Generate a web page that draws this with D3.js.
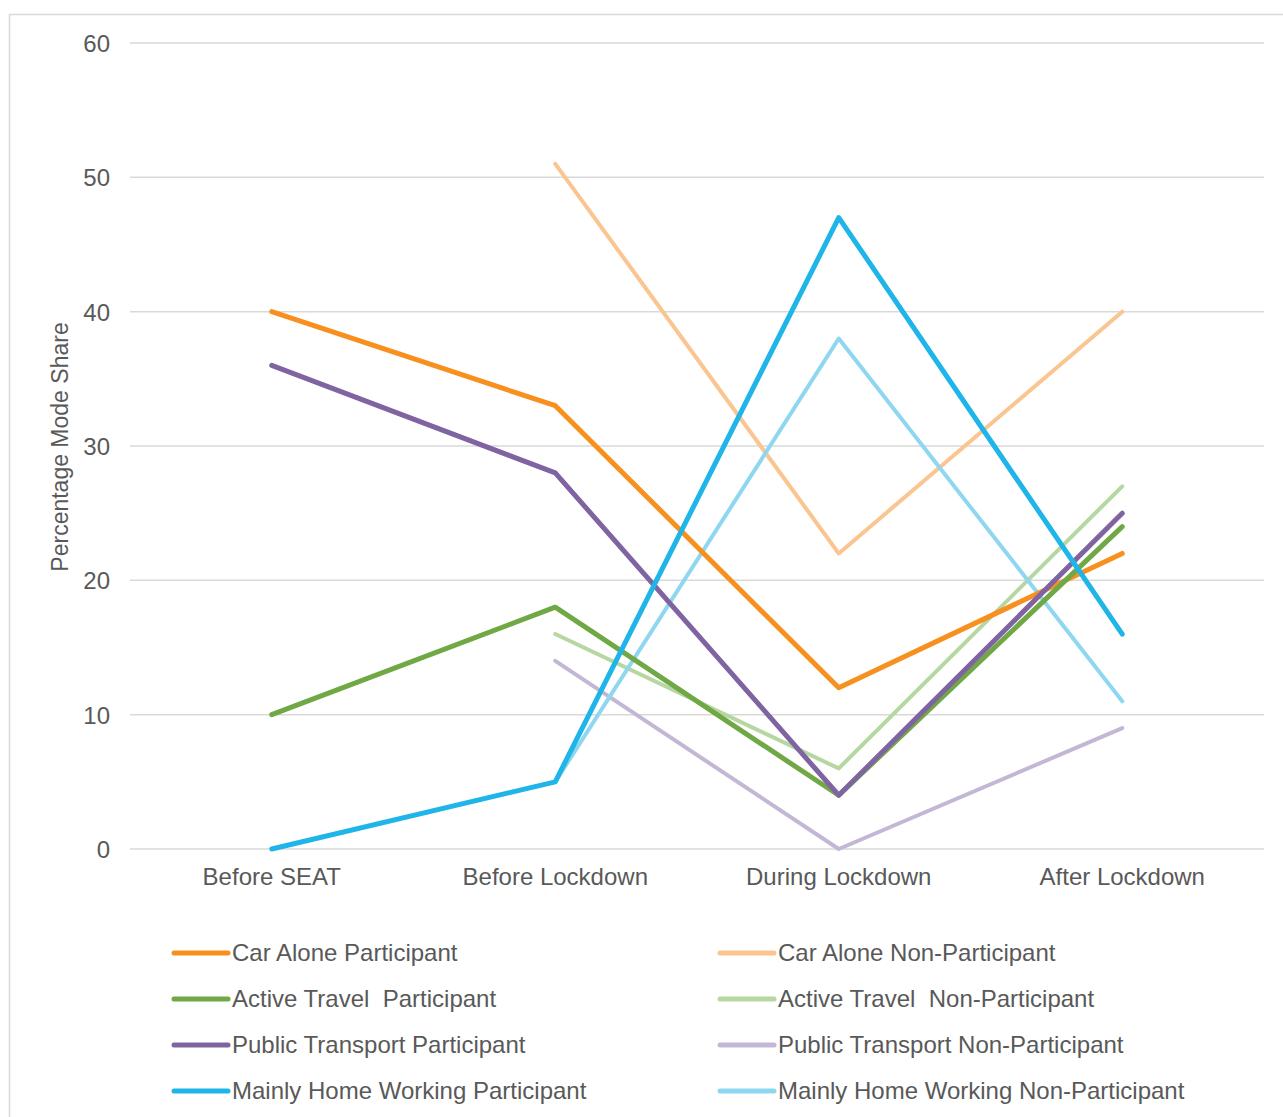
<!DOCTYPE html>
<html>
<head>
<meta charset="utf-8">
<script src="https://cdn.jsdelivr.net/npm/d3@7"></script>
<style>
	body { margin: 0; background: #fff; }
	svg { display: block; font-family: "Liberation Sans", Arial, sans-serif; }
</style>
</head>
<body>
<div id="chart"></div>
<script>
	'use strict';

	var categories = ['Before SEAT', 'Before Lockdown', 'During Lockdown', 'After Lockdown'];
	var yTicks = [0, 10, 20, 30, 40, 50, 60];

	var seriesNames = [
		'Car Alone Participant', 'Car Alone Non-Participant',
		'Active Travel  Participant', 'Active Travel  Non-Participant',
		'Public Transport Participant', 'Public Transport Non-Participant',
		'Mainly Home Working Participant', 'Mainly Home Working Non-Participant'
	];

	var carAlonePart = [40, 33, 12, 22];
	var carAloneNon = [null, 51, 22, 40];
	var activePart = [10, 18, 4, 24];
	var activeNon = [null, 16, 6, 27];
	var publicPart = [36, 28, 4, 25];
	var publicNon = [null, 14, 0, 9];
	var homePart = [0, 5, 47, 16];
	var homeNon = [null, 5, 38, 11];

	var seriesValues = [carAlonePart, carAloneNon, activePart, activeNon, publicPart, publicNon, homePart, homeNon];
	var colors = ['#F7901E', '#FAC590', '#70A845', '#B6D7A2', '#8064A2', '#C4B7D5', '#1FB5E8', '#8FD7F0'];

	var width = 1283, height = 1117;
	var margin = {top: 43, right: 19, bottom: 268, left: 130};

	var svg = d3.select('#chart').append('svg')
		.attr('width', width)
		.attr('height', height);

	// outer frame
	svg.append('rect')
		.attr('x', 9.5).attr('y', 14.5)
		.attr('width', 1290).attr('height', 1120)
		.attr('fill', 'none')
		.attr('stroke', '#d9d9d9')
		.attr('stroke-width', 1.5);

	var x = d3.scaleBand()
		.domain(categories)
		.range([margin.left, width - margin.right]);

	var y = d3.scaleLinear()
		.domain([0, 60])
		.range([height - margin.bottom, margin.top]);

	// gridlines
	svg.append('g')
		.selectAll('line')
		.data(yTicks).enter()
		.append('line')
			.attr('x1', margin.left)
			.attr('x2', width - margin.right)
			.attr('y1', function(d) { return y(d); })
			.attr('y2', function(d) { return y(d); })
			.attr('stroke', '#d9d9d9')
			.attr('stroke-width', 1.5);

	// y axis labels
	var yAxis = svg.append('g')
		.attr('transform', 'translate(' + (margin.left - 20) + ',0)')
		.call(d3.axisLeft(y).tickValues(yTicks).tickSize(0).tickPadding(0));
	yAxis.select('.domain').remove();
	yAxis.selectAll('text')
		.attr('fill', '#595959')
		.style('font-size', '24px')
		.attr('dy', '0.35em');

	// x axis labels
	var xAxis = svg.append('g')
		.attr('transform', 'translate(0,' + (height - margin.bottom + 28) + ')')
		.call(d3.axisBottom(x).tickSize(0).tickPadding(0));
	xAxis.select('.domain').remove();
	xAxis.selectAll('text')
		.attr('fill', '#595959')
		.style('font-size', '24px')
		.attr('dy', '0.35em');

	// y title
	svg.append('text')
		.attr('transform', 'translate(68,' + (y(30) + 1) + ') rotate(-90)')
		.attr('text-anchor', 'middle')
		.attr('fill', '#595959')
		.style('font-size', '23px')
		.text('Percentage Mode Share');

	var line = d3.line()
		.defined(function(d) { return d != null; })
		.x(function(d, i) { return x(categories[i]) + x.bandwidth() / 2; })
		.y(function(d) { return y(d); });

	var series = seriesNames.map(function(name, i) {
		return {name: name, values: seriesValues[i], color: colors[i], part: i % 2 === 0};
	});

	// draw non-participant first, participants on top
	var drawOrder = series.filter(function(s) { return !s.part; }).concat(series.filter(function(s) { return s.part; }));

	svg.append('g')
		.selectAll('path')
		.data(drawOrder).enter()
		.append('path')
			.attr('d', function(d) { return line(d.values); })
			.attr('fill', 'none')
			.attr('stroke', function(d) { return d.color; })
			.attr('stroke-width', function(d) { return d.part ? 5 : 4; })
			.attr('stroke-linejoin', 'round')
			.attr('stroke-linecap', 'round');

	// legend
	var legend = svg.append('g')
		.selectAll('g')
		.data(series).enter()
		.append('g')
			.attr('transform', function(d, i) {
				var col = i % 2, row = Math.floor(i / 2);
				return 'translate(' + (col ? 720 : 174) + ',' + (953 + row * 46) + ')';
			});

	legend.append('line')
		.attr('x1', 0).attr('x2', 54)
		.attr('stroke', function(d) { return d.color; })
		.attr('stroke-width', 5)
		.attr('stroke-linecap', 'round');

	legend.append('text')
		.attr('x', 58)
		.attr('dy', '0.35em')
		.attr('fill', '#595959')
		.style('font-size', '24px')
		.style('white-space', 'pre')
		.text(function(d) { return d.name; });
</script>
</body>
</html>
